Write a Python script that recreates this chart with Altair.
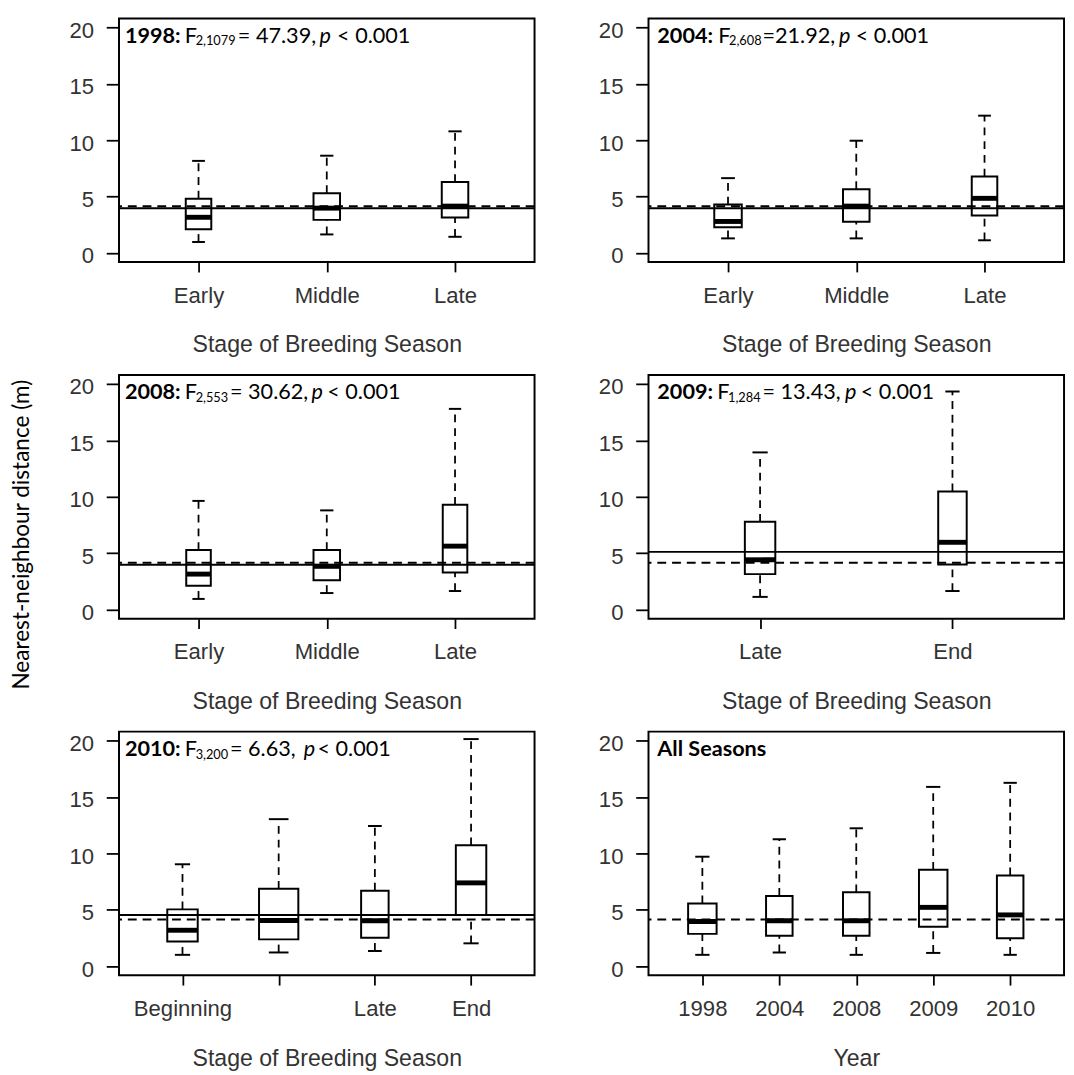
import altair as alt
import pandas as pd

# ---------------- data ----------------
# 1998
CATS_1998 = ["Early", "Middle", "Late"]
LO_1998 = [0.98, 1.65, 1.44]
Q1_1998 = [2.10, 2.94, 3.15]
MED_1998 = [3.17, 3.98, 4.16]
Q3_1998 = [4.82, 5.31, 6.29]
HI_1998 = [8.17, 8.63, 10.79]
YEARMED_1998 = 3.98

# 2004
CATS_2004 = ["Early", "Middle", "Late"]
LO_2004 = [1.30, 1.30, 1.13]
Q1_2004 = [2.28, 2.77, 3.32]
MED_2004 = [2.80, 4.16, 4.85]
Q3_2004 = [4.30, 5.66, 6.78]
HI_2004 = [6.64, 9.96, 12.18]
YEARMED_2004 = 3.98

# 2008
CATS_2008 = ["Early", "Middle", "Late"]
LO_2008 = [0.95, 1.47, 1.65]
Q1_2008 = [2.11, 2.60, 3.29]
MED_2008 = [3.15, 3.84, 5.63]
Q3_2008 = [5.28, 5.28, 9.29]
HI_2008 = [9.64, 8.80, 17.80]
YEARMED_2008 = 3.98

# 2009
CATS_2009 = ["Late", "End"]
LO_2009 = [1.13, 1.65]
Q1_2009 = [3.15, 4.01]
MED_2009 = [4.42, 5.97]
Q3_2009 = [7.79, 10.48]
HI_2009 = [13.94, 19.34]
YEARMED_2009 = 5.12

# 2010
CATS_2010 = ["Beginning", "Middle", "Late", "End"]
LO_2010 = [1.01, 1.22, 1.36, 2.03]
Q1_2010 = [2.20, 2.38, 2.52, 4.55]
MED_2010 = [3.19, 4.06, 4.03, 7.39]
Q3_2010 = [5.04, 6.87, 6.70, 10.72]
HI_2010 = [9.04, 13.04, 12.43, 20.14]
YEARMED_2010 = 4.55

# All seasons
CATS_ALL = ["1998", "2004", "2008", "2009", "2010"]
LO_ALL = [1.01, 1.22, 1.01, 1.18, 1.01]
Q1_ALL = [2.87, 2.70, 2.70, 3.50, 2.49]
MED_ALL = [3.97, 4.03, 4.03, 5.22, 4.55]
Q3_ALL = [5.57, 6.23, 6.55, 8.55, 8.05]
HI_ALL = [9.71, 11.25, 12.23, 15.90, 16.26]
OVERALL_MEDIAN = 4.15

# annotation texts
ANN_1998 = ["1998:", "F", "2,1079", "= 47.39,", "p", "< 0.001"]
ANN_2004 = ["2004:", "F", "2,608", "=21.92,", "p", "< 0.001"]
ANN_2008 = ["2008:", "F", "2,553", "= 30.62,", "p", "< 0.001"]
ANN_2009 = ["2009:", "F", "1,284", "= 13.43,", "p", "< 0.001"]
ANN_2010 = ["2010:", "F", "3,200", "= 6.63,", "p", "< 0.001"]
ANN_ALL = ["All Seasons"]

X_TITLE_STAGE = "Stage of Breeding Season"
X_TITLE_YEAR = "Year"
Y_TITLE = "Nearest-neighbour distance (m)"

# ---------------- layout / style (not data) ----------------
BOXW_1998 = [26, 27, 27]
BOXW_2004 = [28, 27, 26]
BOXW_2008 = [25, 27, 25]
BOXW_2009 = [31, 29]
BOXW_2010 = [31, 40, 28, 31]
BOXW_ALL = [29, 27, 27, 29, 27]

SEG_X_1998 = [6, 67, 78, 121, 204, 222]
SEG_X_2004 = [9, 71, 82, 116, 194, 211]
SEG_X_2008 = [6, 67, 78, 113, 196, 212]
SEG_X_2009 = [9, 70, 81, 116, 200, 216]
SEG_X_2010 = [6, 67, 78, 113, 188, 202]
SEG_X_ALL = [9]
SEG_KIND = ["bold", "normal", "sub", "normal", "italic", "normal"]

PW, PH = 423, 248
YDOM = [-0.8, 20.8]
TICK_FONT = "Liberation Sans"
ANN_FONT = "Lato"
GREY = "#333333"


def make_panel(cats, lo, q1, med, q3, hi, boxw, solid, ann, segx, kinds,
               xtitle, ytitle=None, hide_label=None):
    n = len(cats)
    df = pd.DataFrame({"cat": cats, "lo": lo, "q1": q1, "med": med,
                       "q3": q3, "hi": hi, "bw": boxw})
    df["cw"] = df["bw"] * 0.5

    xax = dict(title=xtitle, labelAngle=0, tickSize=10, tickWidth=1.8,
               tickColor="black", labelFont=TICK_FONT, labelFontSize=22.5,
               labelColor=GREY, labelPadding=13, titleFont=TICK_FONT,
               titleFontSize=23.5, titleColor=GREY, titleFontWeight="normal",
               titlePadding=27, domain=False, grid=False)
    if hide_label:
        xax["labelExpr"] = "datum.label == '%s' ? '' : datum.label" % hide_label
    x = alt.X("cat:N", sort=cats,
              scale=alt.Scale(type="point", padding=0.5 + 0.04 * n),
              axis=alt.Axis(**xax))

    yax = dict(values=[0, 5, 10, 15, 20], tickSize=13, tickWidth=1.8,
               tickColor="black", labelFont=TICK_FONT, labelFontSize=22.5,
               labelColor=GREY, labelPadding=13, labelOffset=3,
               domain=False, grid=False)
    if ytitle:
        yax.update(title=ytitle, titleFont=ANN_FONT, titleFontSize=23,
                   titleColor="black", titleFontWeight="normal",
                   titleAngle=270, titleAlign="center",
                   titleBaseline="alphabetic", titleX=-92, titleY=162)
    else:
        yax["title"] = None
    yaxis = alt.Axis(**yax)
    ys = alt.Scale(domain=YDOM, nice=False, zero=False)

    base = alt.Chart(df).encode(x=x)
    boxes = base.mark_bar(fill="white", stroke="black", strokeWidth=2).encode(
        y=alt.Y("q1:Q", scale=ys, axis=yaxis), y2="q3:Q",
        size=alt.Size("bw:Q", scale=None))
    wh_up = base.mark_rule(color="black", strokeWidth=1.8, strokeDash=[8, 6]).encode(
        y=alt.Y("q3:Q", scale=ys, axis=yaxis), y2="hi:Q")
    wh_lo = base.mark_rule(color="black", strokeWidth=1.8, strokeDash=[8, 6]).encode(
        y=alt.Y("lo:Q", scale=ys, axis=yaxis), y2="q1:Q")
    cap_hi = base.mark_tick(color="black", thickness=2, opacity=1).encode(
        y=alt.Y("hi:Q", scale=ys, axis=yaxis), size=alt.Size("cw:Q", scale=None))
    cap_lo = base.mark_tick(color="black", thickness=2, opacity=1).encode(
        y=alt.Y("lo:Q", scale=ys, axis=yaxis), size=alt.Size("cw:Q", scale=None))
    meds = base.mark_tick(color="black", thickness=5, opacity=1).encode(
        y=alt.Y("med:Q", scale=ys, axis=yaxis), size=alt.Size("bw:Q", scale=None))

    layers = [boxes]
    dashed = alt.Chart(pd.DataFrame({"v": [OVERALL_MEDIAN]})).mark_rule(
        color="black", strokeWidth=2, strokeDash=[9, 6]).encode(
        y=alt.Y("v:Q", scale=ys, axis=yaxis))
    layers.append(dashed)
    if solid is not None:
        solid_l = alt.Chart(pd.DataFrame({"v": [solid]})).mark_rule(
            color="black", strokeWidth=2).encode(
            y=alt.Y("v:Q", scale=ys, axis=yaxis))
        layers.append(solid_l)
    layers += [wh_up, wh_lo, cap_hi, cap_lo, meds]

    for txt, sx, kind in zip(ann, segx, kinds):
        kw = dict(align="left", baseline="alphabetic", font=ANN_FONT,
                  fontSize=22, color="black")
        yb = 24.5
        if kind == "bold":
            kw["fontWeight"] = "bold"
        elif kind == "italic":
            kw["fontStyle"] = "italic"
        elif kind == "sub":
            kw["fontSize"] = 13
            yb = 27.5
        layers.append(alt.Chart(pd.DataFrame({"t": [txt]})).mark_text(**kw).encode(
            x=alt.value(sx), y=alt.value(yb), text="t:N"))

    return alt.layer(*layers).properties(width=PW, height=PH)


p1 = make_panel(CATS_1998, LO_1998, Q1_1998, MED_1998, Q3_1998, HI_1998, BOXW_1998,
                YEARMED_1998, ANN_1998, SEG_X_1998, SEG_KIND, X_TITLE_STAGE)
p2 = make_panel(CATS_2004, LO_2004, Q1_2004, MED_2004, Q3_2004, HI_2004, BOXW_2004,
                YEARMED_2004, ANN_2004, SEG_X_2004, SEG_KIND, X_TITLE_STAGE)
p3 = make_panel(CATS_2008, LO_2008, Q1_2008, MED_2008, Q3_2008, HI_2008, BOXW_2008,
                YEARMED_2008, ANN_2008, SEG_X_2008, SEG_KIND, X_TITLE_STAGE,
                ytitle=Y_TITLE)
p4 = make_panel(CATS_2009, LO_2009, Q1_2009, MED_2009, Q3_2009, HI_2009, BOXW_2009,
                YEARMED_2009, ANN_2009, SEG_X_2009, SEG_KIND, X_TITLE_STAGE)
p5 = make_panel(CATS_2010, LO_2010, Q1_2010, MED_2010, Q3_2010, HI_2010, BOXW_2010,
                YEARMED_2010, ANN_2010, SEG_X_2010, SEG_KIND, X_TITLE_STAGE,
                hide_label="Middle")
p6 = make_panel(CATS_ALL, LO_ALL, Q1_ALL, MED_ALL, Q3_ALL, HI_ALL, BOXW_ALL,
                None, ANN_ALL, SEG_X_ALL, ["bold"], X_TITLE_YEAR)

chart = alt.concat(p1, p2, p3, p4, p5, p6, columns=2,
                   spacing={"row": 17, "column": 61}).properties(
    padding={"left": 2, "top": 0, "right": 0, "bottom": 0}
).configure_view(stroke="black", strokeWidth=2)

chart.save("out.html", embed_options={"renderer": "svg", "actions": False})
